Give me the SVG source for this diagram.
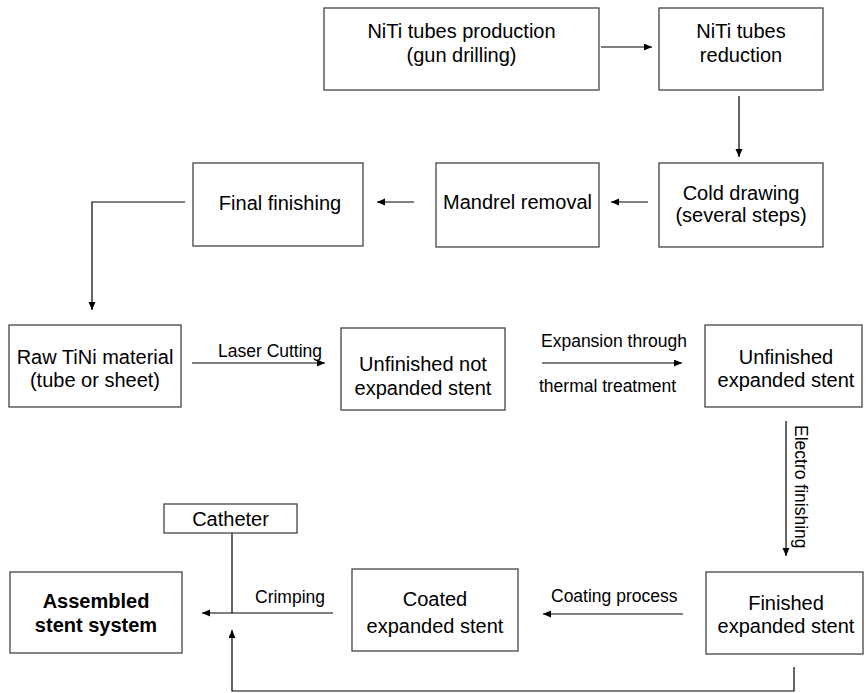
<svg xmlns="http://www.w3.org/2000/svg" width="866" height="693" viewBox="0 0 866 693">
<style>
.box{fill:#fff;stroke:#444;stroke-width:1.3}
.t{font-family:"Liberation Sans",Arial,sans-serif;font-size:20px;fill:#000;text-anchor:middle}
.b{font-weight:bold}
.lbl{font-family:"Liberation Sans",Arial,sans-serif;font-size:17.5px;fill:#000}
.c{fill:none;stroke:#000;stroke-width:1.2}
.a{marker-end:url(#ah)}
</style>
<defs>
<marker id="ah" markerUnits="userSpaceOnUse" markerWidth="9" markerHeight="8" refX="8" refY="3.5" orient="auto">
<path d="M0,0 L8,3.5 L0,7 z" fill="#000"/>
</marker>
</defs>
<rect width="866" height="693" fill="#fff"/>
<g id="connectors">
<path class="c a" d="M601,47 H652"/>
<path class="c a" d="M739,96 V157"/>
<path class="c a" d="M648,202 H611"/>
<path class="c a" d="M414,202 H377"/>
<path class="c a" d="M185,202 H92 V310"/>
<path class="c a" d="M192,363 H325"/>
<path class="c a" d="M542,363 H682"/>
<path class="c a" d="M786,421 V556"/>
<path class="c a" d="M683,614 H543"/>
<path class="c a" d="M333,613 H202"/>
<path class="c" d="M232,533 V613"/>
<path class="c a" d="M794,667 V691 H232 V630"/>
<text class="lbl" x="218" y="357">Laser Cutting</text>
<text class="lbl" x="541" y="347">Expansion through</text>
<text class="lbl" x="539" y="392">thermal treatment</text>
<text class="lbl" transform="translate(795,425) rotate(90)">Electro finishing</text>
<text class="lbl" x="551" y="602">Coating process</text>
<text class="lbl" x="255" y="603">Crimping</text>
</g>
<g id="n1"><rect class="box" x="324" y="8" width="275" height="82"/><text class="t" x="461.5" y="38">NiTi tubes production</text><text class="t" x="461.5" y="62">(gun drilling)</text></g>
<g id="n2"><rect class="box" x="659" y="8" width="164" height="82"/><text class="t" x="741" y="38">NiTi tubes</text><text class="t" x="741" y="62">reduction</text></g>
<g id="n3"><rect class="box" x="659" y="163" width="164" height="84"/><text class="t" x="741" y="200">Cold drawing</text><text class="t" x="741" y="222">(several steps)</text></g>
<g id="n4"><rect class="box" x="436" y="163" width="163" height="84"/><text class="t" x="517.5" y="209">Mandrel removal</text></g>
<g id="n5"><rect class="box" x="193" y="163" width="170" height="83"/><text class="t" x="280" y="210">Final finishing</text></g>
<g id="n6"><rect class="box" x="9" y="325" width="172" height="82"/><text class="t" x="95" y="364">Raw TiNi material</text><text class="t" x="95" y="387">(tube or sheet)</text></g>
<g id="n7"><rect class="box" x="341" y="328" width="164" height="82"/><text class="t" x="423" y="371">Unfinished not</text><text class="t" x="423" y="395">expanded stent</text></g>
<g id="n8"><rect class="box" x="705" y="325" width="157" height="82"/><text class="t" x="786" y="364">Unfinished</text><text class="t" x="786" y="387">expanded stent</text></g>
<g id="n9"><rect class="box" x="706" y="572" width="157" height="82"/><text class="t" x="786" y="610">Finished</text><text class="t" x="786" y="633">expanded stent</text></g>
<g id="n10"><rect class="box" x="352" y="569" width="166" height="82"/><text class="t" x="435" y="606">Coated</text><text class="t" x="435" y="633">expanded stent</text></g>
<g id="n11"><rect class="box" x="10" y="572" width="172" height="81"/><text class="t b" x="96" y="608">Assembled</text><text class="t b" x="96" y="632">stent system</text></g>
<g id="n12"><rect class="box" x="164" y="504" width="133" height="29"/><text class="t" x="230.5" y="526">Catheter</text></g>
</svg>
